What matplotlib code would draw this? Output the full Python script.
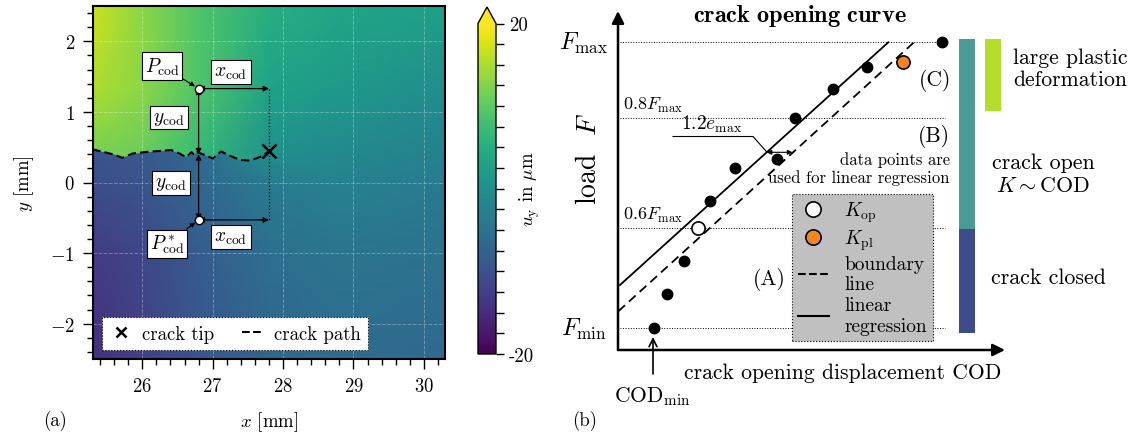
import numpy as np
import matplotlib
matplotlib.use('Agg')
import matplotlib.pyplot as plt
from matplotlib.lines import Line2D
from matplotlib.path import Path
from matplotlib.ticker import MultipleLocator

plt.rcParams['font.family'] = 'serif'
plt.rcParams['font.serif'] = ['cmr10']
plt.rcParams['mathtext.fontset'] = 'cm'
plt.rcParams['axes.formatter.use_mathtext'] = True
plt.rcParams['font.size'] = 13

# ---- (a) displacement field u_y in um on a coarse grid
field_x = [25.3, 26.0, 26.8, 27.8, 28.8, 30.3]
field_y = [-2.5, -1.0, 0.0, 0.44, 1.3, 2.5]
field_uy = [[-14.5, -12.5, -9.5, -7.0, -6.0, -6.5],
            [-13.0, -11.5, -8.5, -5.5, -4.5, -5.0],
            [-10.5, -9.5, -7.0, -3.5, -2.5, -3.5],
            [-10.0, -9.0, -6.5, 0.0, -1.0, -2.5],
            [15.0, 13.0, 9.0, 3.0, 1.5, -0.5],
            [17.0, 13.0, 9.0, 5.0, 3.5, 2.5]]

# field above the crack flank
upper_x = [25.3, 26.0, 26.8, 27.8]
upper_y = [0.0, 0.44, 1.3, 2.5]
upper_uy = [[12.0, 11.0, 7.0, 0.0],
            [12.0, 11.0, 7.0, 0.0],
            [15.0, 13.0, 9.0, 3.0],
            [17.0, 13.0, 9.0, 5.0]]

crack_x = [25.29, 25.46, 25.58, 25.72, 25.86, 26.08, 26.41, 26.53, 26.62, 26.70,
           26.74, 26.78, 26.89, 27.00, 27.12, 27.24, 27.39, 27.53, 27.67, 27.80]
crack_y = [0.47, 0.43, 0.40, 0.35, 0.41, 0.435, 0.46, 0.41, 0.36, 0.43,
           0.39, 0.43, 0.39, 0.34, 0.44, 0.38, 0.32, 0.31, 0.36, 0.44]
tip_x, tip_y = 27.8, 0.44
p_cod = (26.8, 1.33)
p_cod_star = (26.8, -0.53)
crack_at_p = 0.40

# ---- (b) crack opening curve (schematic units)
cod = [3.63, 4.93, 6.63, 9.2, 11.7, 15.93, 17.7, 21.53, 24.87, 32.37]
load = [2.17, 5.63, 8.9, 14.87, 18.17, 19.1, 23.2, 26.1, 28.33, 30.77]
k_op = (8.03, 12.17)
k_pl = (28.53, 28.83)
reg_x, reg_y = [0.2, 27.03], [6.5, 30.77]
bound_x, bound_y = [0.03, 29.6], [3.87, 30.77]
level_names = [r'$F_\mathrm{max}$', r'$0.8F_\mathrm{max}$', r'$0.6F_\mathrm{max}$', r'$F_\mathrm{min}$']
level_y = [30.8, 23.2, 12.2, 2.2]
state_x = [34.9, 34.9, 37.5]
state_lo = [12.1, 1.7, 23.9]
state_hi = [31.1, 12.1, 31.1]
state_col = ['#4a9a96', '#3e4c8a', '#b4dd2c']

fig = plt.figure(figsize=(11.34, 4.39), dpi=100)

# ================= panel (a)
ax = fig.add_axes([93/1134, 1 - 360/439, 352/1134, 353/439])
X, Y = np.meshgrid(field_x, field_y)
mesh = ax.pcolormesh(X, Y, np.array(field_uy), shading='gouraud',
                     cmap='viridis', vmin=-20, vmax=20, zorder=0)
Xu, Yu = np.meshgrid(upper_x, upper_y)
up = ax.pcolormesh(Xu, Yu, np.array(upper_uy), shading='gouraud',
                   cmap='viridis', vmin=-20, vmax=20, zorder=0.5)
clip = [(25.3, 2.5), (25.3, crack_y[0])] + list(zip(crack_x, crack_y)) + [(tip_x, 2.5)]
up.set_clip_path(Path(clip), ax.transData)

ax.set_xlim(25.3, 30.3)
ax.set_ylim(-2.5, 2.5)
ax.xaxis.set_major_locator(MultipleLocator(1))
ax.yaxis.set_major_locator(MultipleLocator(1))
ax.xaxis.set_minor_locator(MultipleLocator(0.2))
ax.yaxis.set_minor_locator(MultipleLocator(0.2))
ax.tick_params(which='major', length=7, width=1, labelsize=13.5, pad=6)
ax.tick_params(which='minor', length=4, width=1)
for s in ax.spines.values():
    s.set_linewidth(1.5)
ax.grid(True, which='major', color='white', ls='--', lw=0.7, alpha=0.3)
ax.set_xlabel('$x$ [mm]', fontsize=13.5, labelpad=10)
ax.set_ylabel('$y$ [mm]', fontsize=13.5, labelpad=10)

ax.plot(crack_x, crack_y, color='black', ls=(0, (4, 2)), lw=1.5, zorder=3)
ax.plot(tip_x, tip_y, marker='x', color='black', ms=10, mew=1.8, zorder=4)

# cod construction
ax.plot([tip_x, tip_x], [p_cod[1], p_cod_star[1]], color='black', ls=':', lw=0.9, zorder=3)
arr = dict(arrowstyle='<|-|>', color='black', lw=0.9, mutation_scale=8, shrinkA=0, shrinkB=0)
ax.annotate('', xy=(p_cod[0], crack_at_p), xytext=p_cod, arrowprops=arr, zorder=4)
ax.annotate('', xy=(p_cod[0], crack_at_p), xytext=p_cod_star, arrowprops=arr, zorder=4)
ax.annotate('', xy=(tip_x, p_cod[1]), xytext=p_cod, arrowprops=arr, zorder=4)
ax.annotate('', xy=(tip_x, p_cod_star[1]), xytext=p_cod_star, arrowprops=arr, zorder=4)
ax.plot([p_cod[0], p_cod_star[0]], [p_cod[1], p_cod_star[1]], ls='none', marker='o',
        ms=6, mfc='white', mec='black', mew=1, zorder=6)

box = dict(boxstyle='square,pad=0.15', fc='white', ec='black', lw=0.8)
lead = dict(arrowstyle='-|>', color='black', lw=0.8, mutation_scale=7, shrinkA=0, shrinkB=3)
ax.annotate(r'$P_\mathrm{cod}$', xy=p_cod, xytext=(26.28, 1.65), ha='center', va='center',
            fontsize=14, bbox=box, arrowprops=lead, zorder=5)
ax.annotate(r'$P^*_\mathrm{cod}$', xy=p_cod_star, xytext=(26.35, -0.87), ha='center', va='center',
            fontsize=14, bbox=box, arrowprops=lead, zorder=5)
for tx, ty, s in [(27.26, 1.57, r'$x_\mathrm{cod}$'), (27.26, -0.77, r'$x_\mathrm{cod}$'),
                  (26.38, 0.92, r'$y_\mathrm{cod}$'), (26.41, -0.01, r'$y_\mathrm{cod}$')]:
    ax.text(tx, ty, s, ha='center', va='center', fontsize=14, bbox=box, zorder=5)

h_a = [Line2D([], [], marker='x', ls='none', color='black', ms=7, mew=1.8, label='crack tip'),
       Line2D([], [], color='black', ls='--', lw=1.5, label='crack path')]
leg = ax.legend(handles=h_a, ncol=2, loc='lower left', bbox_to_anchor=(0.026, 0.025),
                fontsize=13.5, handlelength=1.2, handletextpad=0.5, columnspacing=1.5,
                fancybox=False, framealpha=1, facecolor='white', edgecolor='black',
                borderaxespad=0)
leg.get_frame().set_linestyle(':')
leg.get_frame().set_linewidth(0.8)

cax = fig.add_axes([478/1134, 1 - 355/439, 18/1134, 347/439])
cb = fig.colorbar(mesh, cax=cax, extend='max')
cb.set_ticks(np.arange(-20, 20.1, 2.5))
cb.set_ticklabels(['-20'] + [''] * 15 + ['20'])
cb.ax.tick_params(length=6, width=1, labelsize=13.5)
cb.outline.set_linewidth(1)
cb.set_label(r'$u_\mathrm{y}$ in $\mu$m', fontsize=13.5, labelpad=-12)

fig.text(55/1134, 1 - 421/439, '(a)', ha='center', va='center', fontsize=13.5)

# ================= panel (b)
bx = fig.add_axes([618/1134, 1 - 351/439, 516/1134, 351/439])
bx.set_xlim(0, 51.6)
bx.set_ylim(0, 35.1)
bx.axis('off')

axis_arr = dict(arrowstyle='-|>', color='black', lw=1.8, mutation_scale=18, shrinkA=0, shrinkB=0)
bx.annotate('', xy=(0, 33.9), xytext=(0, 0), arrowprops=axis_arr, annotation_clip=False)
bx.annotate('', xy=(38.7, 0), xytext=(0, 0), arrowprops=axis_arr, annotation_clip=False)

for i, ly in enumerate(level_y):
    bx.plot([0.2, 32.7], [ly, ly], color='black', ls=':', lw=0.7, zorder=1)
bx.text(-3.4, level_y[0], level_names[0], ha='center', va='center', fontsize=17.5)
bx.text(-3.4, level_y[3], level_names[3], ha='center', va='center', fontsize=17.5)
bx.text(0.5, level_y[1] + 0.4, level_names[1], ha='left', va='bottom', fontsize=13)
bx.text(0.5, level_y[2] + 0.4, level_names[2], ha='left', va='bottom', fontsize=13)

bx.plot(reg_x, reg_y, color='black', lw=1.3, zorder=2)
bx.plot(bound_x, bound_y, color='black', lw=1.3, ls=(0, (5, 3)), zorder=2)
bx.plot(cod, load, ls='none', marker='o', ms=7.5, color='black', zorder=3)
bx.plot(*k_op, marker='o', ms=9.5, mfc='white', mec='black', mew=1.2, zorder=4)
bx.plot(*k_pl, marker='o', ms=9.5, mfc='#f28522', mec='black', mew=1.2, zorder=4)

# 1.2 e_max
bx.annotate('', xy=(17.45, 19.77), xytext=(14.87, 19.77),
            arrowprops=dict(arrowstyle='<|-|>', color='black', lw=0.8, mutation_scale=7,
                            shrinkA=0, shrinkB=0))
bx.plot([5.5, 13.5, 14.9], [21.35, 21.35, 19.77], color='black', lw=0.8)
bx.text(9.4, 21.6, r'$1.2e_\mathrm{max}$', ha='center', va='bottom', fontsize=14)

bx.text(15.1, 7.1, '(A)', ha='center', va='center', fontsize=15.5)
bx.text(31.6, 21.4, '(B)', ha='center', va='center', fontsize=15.5)
bx.text(31.7, 27.1, '(C)', ha='center', va='center', fontsize=15.5)
bx.text(33.2, 18.2, 'data points are\nused for linear regression', ha='right', va='center',
        multialignment='right', fontsize=12, linespacing=1.2)
bx.text(18.2, 33.5, r'$\mathbf{crack\ opening\ curve}$', ha='center', va='center', fontsize=17.5)
bx.text(-2.9, 19.2, 'load  $F$', rotation=90, ha='center', va='center', fontsize=20)
bx.text(6.6, -2.2, 'crack opening displacement COD', ha='left', va='center', fontsize=15.6)
bx.text(3.4, -4.6, r'$\mathrm{COD}_\mathrm{min}$', ha='center', va='center', fontsize=15.5)
bx.annotate('', xy=(3.5, 1.3), xytext=(3.5, -2.4), annotation_clip=False,
            arrowprops=dict(arrowstyle='->', color='black', lw=1.2, mutation_scale=14,
                            shrinkA=0, shrinkB=0))

bx.bar(state_x, np.subtract(state_hi, state_lo), bottom=state_lo, width=1.6,
       color=state_col, zorder=2)
bx.text(39.5, 28.2, 'large plastic\ndeformation', ha='left', va='center', fontsize=15.6,
        linespacing=1.15)
bx.text(42.5, 17.6, 'crack open\n$K\\sim\\mathrm{COD}$', ha='center', va='center', fontsize=15.8,
        linespacing=1.2)
bx.text(43.0, 7.3, 'crack closed', ha='center', va='center', fontsize=15.8)

h_b = [Line2D([], [], marker='o', ls='none', mfc='white', mec='black', ms=11, mew=1.2,
              label=r'$K_\mathrm{op}$'),
       Line2D([], [], marker='o', ls='none', mfc='#f28522', mec='black', ms=11, mew=1.2,
              label=r'$K_\mathrm{pl}$'),
       Line2D([], [], color='black', ls='--', lw=1.5, label='boundary\nline'),
       Line2D([], [], color='black', ls='-', lw=1.5, label='linear\nregression')]
leg2 = bx.legend(handles=h_b, loc='lower left', bbox_to_anchor=(0.337, 0.026), fontsize=14,
                 handlelength=1.6, handletextpad=0.8, labelspacing=0.15, borderpad=0.3,
                 fancybox=False, framealpha=1, facecolor='#c0c0c0', edgecolor='black',
                 borderaxespad=0)
leg2.get_frame().set_linestyle(':')
leg2.get_frame().set_linewidth(0.8)
leg2.set_zorder(5)

fig.text(585/1134, 1 - 421/439, '(b)', ha='center', va='center', fontsize=13.5)

fig.savefig('out.png', dpi=100)
